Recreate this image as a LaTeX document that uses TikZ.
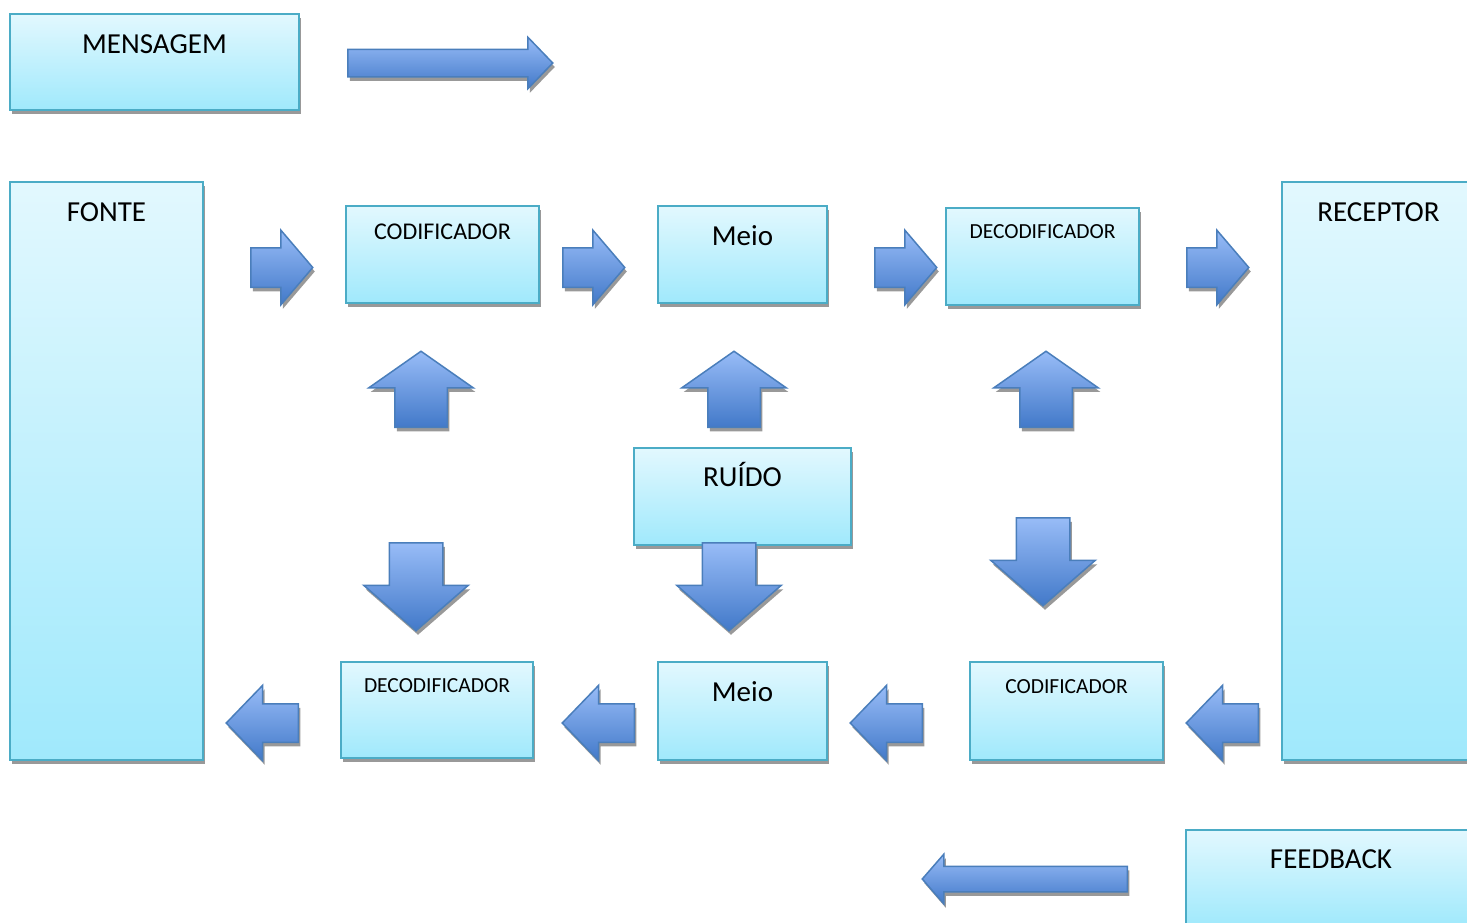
\documentclass[tikz,border=0pt]{standalone}
\usepackage{fontspec}
\setmainfont{Carlito}
\usepackage{tikz}
\usetikzlibrary{shapes.arrows, shadows, positioning}
\definecolor{boxline}{RGB}{75,172,198}
\definecolor{boxtop}{RGB}{226,248,254}
\definecolor{boxbot}{RGB}{160,233,252}
\definecolor{arrowtop}{RGB}{152,188,247}
\definecolor{arrowbot}{RGB}{66,121,201}
\definecolor{arrowline}{RGB}{74,126,187}

\begin{document}
\begin{tikzpicture}[x=1pt, y=-1pt,
    box/.style={draw=boxline, line width=2pt, top color=boxtop, bottom color=boxbot,
      inner sep=0pt, drop shadow={shadow xshift=2pt, shadow yshift=-4pt, fill=black!40, opacity=1}},
    bigtxt/.style={anchor=base, inner sep=0pt, font=\fontsize{29}{34}\selectfont},
    midtxt/.style={anchor=base, inner sep=0pt, font=\fontsize{24}{28}\selectfont},
    smalltxt/.style={anchor=base, inner sep=0pt, font=\fontsize{21.5}{26}\selectfont},
    blockarrow/.style={single arrow, draw=arrowline, line width=1.5pt,
      top color=arrowtop, bottom color=arrowbot, inner xsep=0pt, text height=0pt,
      text depth=0pt, minimum width=0pt, anchor=tail,
      drop shadow={shadow xshift=2pt, shadow yshift=-4pt, fill=black!40, opacity=1}},
    rightarrow/.style={blockarrow, inner ysep=19pt, single arrow head extend=17.5pt,
      single arrow tip angle=99, minimum height=62pt},
    leftarrow/.style={blockarrow, inner ysep=18.5pt, single arrow head extend=18.5pt,
      single arrow tip angle=92, minimum height=72pt, shape border rotate=180},
    uparrow/.style={blockarrow, inner xsep=25.5pt, inner ysep=0pt, single arrow head extend=26pt,
      single arrow tip angle=110, minimum height=76pt, shape border rotate=90},
    downarrow/.style={blockarrow, inner xsep=26pt, inner ysep=0pt, single arrow head extend=25.5pt,
      single arrow tip angle=98, minimum height=88pt, shape border rotate=270}]
    \useasboundingbox (0,0) rectangle (1467,922);

    \node[box, minimum width=289pt, minimum height=96pt] (mensagem) at (154.5,62) {};
    \node[bigtxt] (mensagem-txt) at ([yshift=-40pt]mensagem.north) {MENSAGEM};
    \node[blockarrow, inner ysep=13pt, single arrow head extend=12pt,
      single arrow tip angle=92, minimum height=205pt] (msg-arrow) at (347,63) {};

    \node[box, minimum width=193pt, minimum height=578pt] (fonte) at (106.5,471) {};
    \node[bigtxt] (fonte-txt) at ([yshift=-40pt]fonte.north) {FONTE};
    \node[box, minimum width=193pt, minimum height=578pt] (receptor) at (1378.5,471) {};
    \node[bigtxt] (receptor-txt) at ([yshift=-40pt]receptor.north) {RECEPTOR};

    \node[box, minimum width=193pt, minimum height=97pt] (cod-top) at (442.5,254.5) {};
    \node[midtxt] (cod-top-txt) at ([yshift=-34pt]cod-top.north) {CODIFICADOR};
    \node[box, minimum width=169pt, minimum height=97pt] (meio-top) at (742.5,254.5) {};
    \node[bigtxt] (meio-top-txt) at ([yshift=-40pt]meio-top.north) {Meio};
    \node[box, minimum width=193pt, minimum height=97pt] (dec-top) at (1042.5,256.5) {};
    \node[smalltxt] (dec-top-txt) at ([yshift=-31pt]dec-top.north) {DECODIFICADOR};

    \node[rightarrow] (r1) at (250,267.5) {};
    \node[rightarrow] (r2) at (562,267.5) {};
    \node[rightarrow] (r3) at (874,267.5) {};
    \node[rightarrow] (r4) at (1186,267.5) {};

    \node[uparrow] (u1) at (421,428) {};
    \node[uparrow] (u2) at (734,428) {};
    \node[uparrow] (u3) at (1046,428) {};

    \node[box, minimum width=217pt, minimum height=97pt] (ruido) at (742.5,496.5) {};
    \node[bigtxt] (ruido-txt) at ([yshift=-39pt]ruido.north) {RUÍDO};

    \node[downarrow] (d1) at (416,542) {};
    \node[downarrow] (d2) at (729,542) {};
    \node[downarrow] (d3) at (1043,517) {};

    \node[box, minimum width=192pt, minimum height=96pt] (dec-bot) at (437,710) {};
    \node[smalltxt] (dec-bot-txt) at ([yshift=-31pt]dec-bot.north) {DECODIFICADOR};
    \node[box, minimum width=169pt, minimum height=98pt] (meio-bot) at (742.5,711) {};
    \node[bigtxt] (meio-bot-txt) at ([yshift=-40pt]meio-bot.north) {Meio};
    \node[box, minimum width=193pt, minimum height=98pt] (cod-bot) at (1066.5,711) {};
    \node[smalltxt] (cod-bot-txt) at ([yshift=-32pt]cod-bot.north) {CODIFICADOR};

    \node[leftarrow] (l1) at (299,723) {};
    \node[leftarrow] (l2) at (635,723) {};
    \node[leftarrow] (l3) at (923,723) {};
    \node[leftarrow] (l4) at (1259,723) {};

    \node[box, minimum width=290pt, minimum height=96pt] (feedback) at (1331,878) {};
    \node[bigtxt] (feedback-txt) at ([yshift=-39pt]feedback.north) {FEEDBACK};
    \node[blockarrow, inner ysep=12pt, single arrow head extend=12pt,
      single arrow tip angle=98, minimum height=205pt, shape border rotate=180] (fb-arrow) at (1128,879) {};
  \end{tikzpicture}
\end{document}
